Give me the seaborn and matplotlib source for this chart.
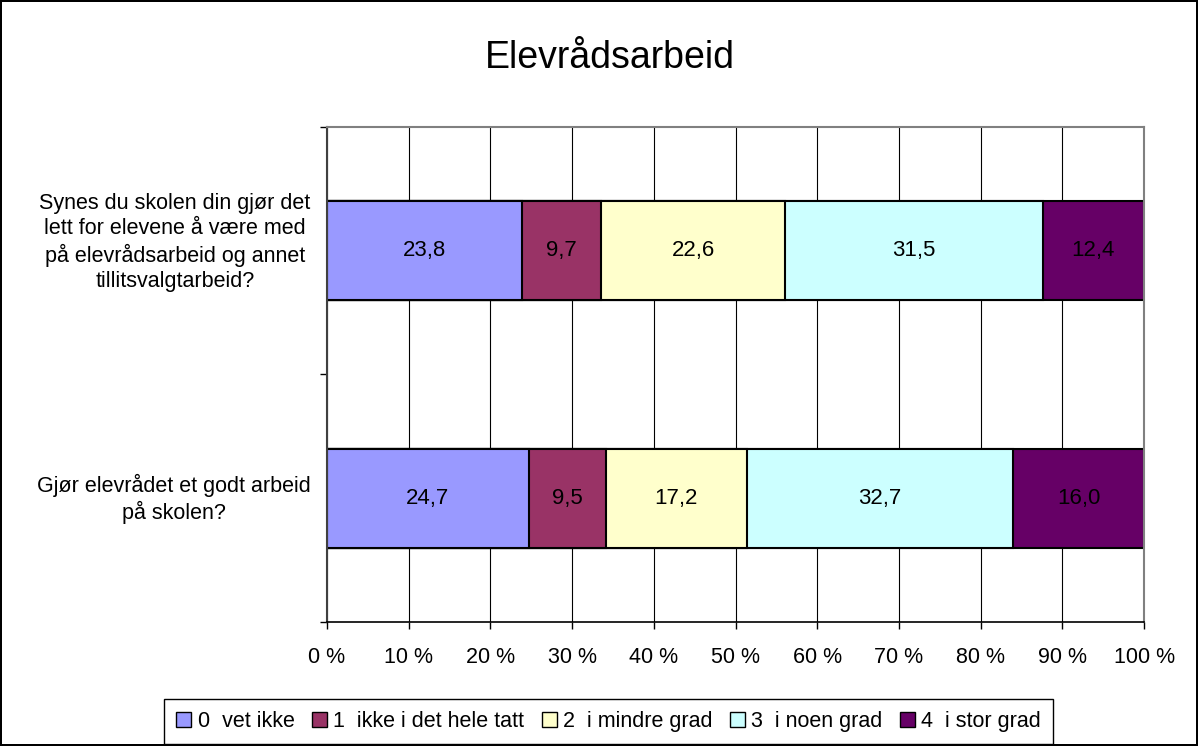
import numpy as np
import pandas as pd
import seaborn as sns
import matplotlib.pyplot as plt
import matplotlib.transforms as mtransforms
from matplotlib.patches import Patch

# Data
questions = ['Synes du skolen din gjør det\nlett for elevene å være med\npå elevrådsarbeid og annet\ntillitsvalgtarbeid?',
             'Gjør elevrådet et godt arbeid\npå skolen?']
categories = ['0  vet ikke', '1  ikke i det hele tatt', '2  i mindre grad', '3  i noen grad', '4  i stor grad']
values_q1 = [23.8, 9.7, 22.6, 31.5, 12.4]
values_q2 = [24.7, 9.5, 17.2, 32.7, 16.0]
colors = ['#9999FF', '#993366', '#FFFFCC', '#CCFFFF', '#660066']
xtick_labels = ['0 %', '10 %', '20 %', '30 %', '40 %', '50 %', '60 %', '70 %', '80 %', '90 %', '100 %']

sns.set_style('white')
plt.rcParams['font.family'] = ['Liberation Sans', 'DejaVu Sans']
plt.rcParams['text.color'] = 'black'
plt.rcParams['xtick.color'] = 'black'
plt.rcParams['ytick.color'] = 'black'
plt.rcParams['xtick.labelcolor'] = 'black'
plt.rcParams['ytick.labelcolor'] = 'black'

vals = np.array([values_q1, values_q2])
pct = vals / vals.sum(axis=1, keepdims=True) * 100
cum = pct.cumsum(axis=1)

fig = plt.figure(figsize=(11.98, 7.46), dpi=100)
fig.patch.set_edgecolor('black')
fig.patch.set_linewidth(1.5)
ax = fig.add_axes([0.273, 0.166, 0.682, 0.664])

# stacked bars: draw cumulative totals from the largest down
for j in range(len(categories) - 1, -1, -1):
    df = pd.DataFrame({'question': questions, 'cum': cum[:, j]})
    sns.barplot(data=df, x='cum', y='question', orient='h', color=colors[j],
                edgecolor='black', linewidth=1.5, width=0.4, errorbar=None,
                saturation=1, ax=ax)

# value labels
for i in range(len(questions)):
    for j in range(len(categories)):
        mid = cum[i, j] - pct[i, j] / 2
        ax.text(mid, i, f'{vals[i, j]:.1f}'.replace('.', ','), ha='center', va='center',
                fontsize=16, color='black')

ax.set_xlim(0, 100)
ax.set_ylim(1.5, -0.5)
ax.set_xticks(np.arange(0, 101, 10))
ax.set_xticklabels(xtick_labels, fontsize=15.5)
ax.set_yticks(range(len(questions)))
ax.set_yticklabels(questions, fontsize=15.5, multialignment='center', linespacing=1.24)
ax.set_yticks([-0.5, 0.5, 1.5], minor=True)
ax.tick_params(axis='y', which='major', length=0, pad=12)
ax.tick_params(axis='y', which='minor', length=5, width=1, color='black', direction='out', left=True)
ax.tick_params(axis='x', length=5, width=1, color='black', direction='out', bottom=True, pad=13)
ax.set_xlabel('')
ax.set_ylabel('')

# Excel puts the label blocks a little above the bar centre
for lab, dy in zip(ax.get_yticklabels(), [9, 3]):
    lab.set_transform(lab.get_transform() + mtransforms.ScaledTranslation(0, dy / 72, fig.dpi_scale_trans))

ax.set_axisbelow(True)
ax.xaxis.grid(True, color='black', linewidth=0.8)
ax.yaxis.grid(False)
for s in ['top', 'right']:
    ax.spines[s].set_visible(True)
    ax.spines[s].set_color('#808080')
    ax.spines[s].set_linewidth(1.5)
ax.spines['left'].set_color('#404040')
ax.spines['left'].set_linewidth(1.5)
ax.spines['bottom'].set_color('black')
ax.spines['bottom'].set_linewidth(1.2)

fig.text(0.509, 0.922, 'Elevrådsarbeid', ha='center', va='center', fontsize=27, color='black')

handles = [Patch(facecolor=c, edgecolor='black', linewidth=1) for c in colors]
fig.legend(handles, categories, loc='center', bbox_to_anchor=(0.508, 0.033), ncol=5,
           fontsize=15.5, frameon=True, fancybox=False, edgecolor='black',
           handlelength=0.7, handleheight=0.7, handletextpad=0.3, columnspacing=0.8,
           borderpad=0.55, framealpha=1, labelcolor='black')

fig.savefig('out.png', dpi=100)
